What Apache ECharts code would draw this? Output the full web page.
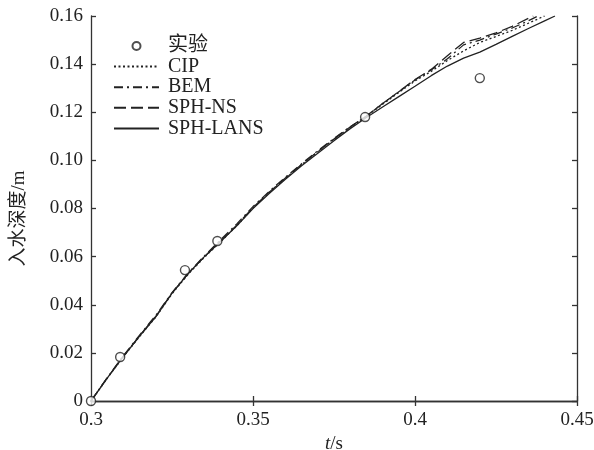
<!DOCTYPE html>
<html>
<head>
<meta charset="utf-8">
<script src="https://cdn.jsdelivr.net/npm/echarts@6/dist/echarts.min.js"></script>
<style>html,body{margin:0;padding:0;background:#fff}#c{width:594px;height:450px}</style>
</head>
<body>
<div id="c"></div>
<script>
// ---- data ----
var xTicks = [0.3, 0.35, 0.4, 0.45];
var yTicks = [0, 0.02, 0.04, 0.06, 0.08, 0.10, 0.12, 0.14, 0.16];

var tExp = [0.300, 0.309, 0.329, 0.339, 0.3846, 0.420];
var vExp = [0.000, 0.0183, 0.0544, 0.0665, 0.1180, 0.1342];

var tCIP = [0.300,0.305,0.310,0.315,0.320,0.325,0.330,0.335,0.340,0.345,0.350,0.355,0.360,0.365,0.370,0.375,0.380,0.385,0.390,0.395,0.400,0.405,0.410,0.415,0.420,0.425,0.430,0.435,0.440];
var vCIP = [0,0.0094,0.0184,0.0268,0.0349,0.0445,0.0527,0.0597,0.0662,0.0728,0.0802,0.0866,0.0925,0.0982,0.1036,0.1088,0.1138,0.1183,0.1233,0.1282,0.1330,0.1370,0.1415,0.1455,0.1490,0.1515,0.1540,0.1570,0.1600];

var tBEM = [0.300,0.305,0.310,0.315,0.320,0.325,0.330,0.335,0.340,0.345,0.350,0.355,0.360,0.365,0.370,0.375,0.380,0.385,0.390,0.395,0.400,0.405,0.410,0.415,0.420,0.425,0.430,0.435,0.438];
var vBEM = [0,0.0097,0.0188,0.0274,0.0356,0.0450,0.0532,0.0603,0.0670,0.0736,0.0808,0.0871,0.0930,0.0986,0.1040,0.1091,0.1140,0.1185,0.1236,0.1285,0.1334,0.1376,0.1422,0.1480,0.1500,0.1525,0.1550,0.1580,0.1600];

var tNS = [0.300,0.305,0.310,0.315,0.320,0.325,0.330,0.335,0.340,0.345,0.350,0.355,0.360,0.365,0.370,0.375,0.380,0.385,0.390,0.395,0.400,0.405,0.410,0.415,0.420,0.425,0.430,0.4365];
var vNS = [0,0.0096,0.0186,0.0271,0.0352,0.0448,0.0530,0.0600,0.0665,0.0731,0.0804,0.0868,0.0927,0.0983,0.1037,0.1089,0.1139,0.1184,0.1236,0.1286,0.1336,0.1378,0.1435,0.1490,0.1508,0.1530,0.1557,0.1600];

var tLANS = [0.300,0.305,0.310,0.315,0.320,0.325,0.330,0.335,0.340,0.345,0.350,0.355,0.360,0.365,0.370,0.375,0.380,0.385,0.390,0.395,0.400,0.405,0.410,0.415,0.420,0.425,0.430,0.435,0.440,0.4432];
var vLANS = [0,0.0095,0.0185,0.0270,0.0350,0.0448,0.0530,0.0600,0.0663,0.0728,0.0800,0.0862,0.0922,0.0978,0.1030,0.1082,0.1132,0.1178,0.1222,0.1265,0.1308,0.1352,0.1392,0.1425,0.1450,0.1482,0.1515,0.1548,0.1580,0.1600];

var seriesNames = ['实验', 'CIP', 'BEM', 'SPH-NS', 'SPH-LANS'];

function zip(t, v) { return t.map(function (x, i) { return [x, v[i]]; }); }

var FONT = '"Liberation Serif", "Times New Roman", "Noto Sans CJK SC", serif';
var INK = '#222';

var chart = echarts.init(document.getElementById('c'), null, {renderer: 'canvas'});

function lineSeries(name, t, v, dash) {
  return {
    name: name, type: 'line', data: zip(t, v), showSymbol: false, symbol: 'none',
    lineStyle: {color: INK, width: 1.3, type: dash},
    itemStyle: {color: INK},
    z: 2, animation: false
  };
}

var legendData = seriesNames.map(function (n, i) {
  return i === 0 ? {name: n} : {name: n, itemStyle: {opacity: 0}};
});

chart.setOption({
  backgroundColor: '#fff',
  animation: false,
  grid: {left: 91, right: 17, top: 16, bottom: 49, containLabel: false, outerBoundsMode: 'none'},
  legend: {
    orient: 'vertical', left: 108, top: 31,
    itemWidth: 45, itemHeight: 8, itemGap: 0.6,
    data: legendData,
    textStyle: {fontFamily: FONT, fontSize: 20, lineHeight: 20, color: INK, padding: [0, 0, 0, 4]},
    inactiveColor: INK
  },
  xAxis: [{
    type: 'value', min: 0.3, max: 0.45, interval: 0.05,
    position: 'bottom',
    name: '{i|t}/s', nameLocation: 'middle', nameGap: 31,
    nameTextStyle: {fontFamily: FONT, fontSize: 19, color: INK,
      rich: {i: {fontFamily: FONT, fontSize: 19, fontStyle: 'italic', color: INK}}},
    axisLine: {show: true, lineStyle: {color: '#333', width: 1.3}},
    axisTick: {show: true, inside: true, length: 5, lineStyle: {color: '#333', width: 1.3}},
    axisLabel: {fontFamily: FONT, fontSize: 19, color: INK, margin: 10,
      formatter: function (v) { return String(+v.toFixed(2)); }},
    splitLine: {show: false}
  }, {
    type: 'value', min: 0.3, max: 0.45, interval: 0.05,
    position: 'top',
    axisLine: {show: true, lineStyle: {color: '#333', width: 1.3}},
    axisTick: {show: true, inside: true, length: 5, lineStyle: {color: '#333', width: 1.3}},
    axisLabel: {show: false},
    splitLine: {show: false}
  }],
  yAxis: [{
    type: 'value', min: 0, max: 0.16, interval: 0.02,
    position: 'left',
    name: '入水深度/m', nameLocation: 'middle', nameGap: 62,
    nameTextStyle: {fontFamily: FONT, fontSize: 19, color: INK, padding: [0, 20, 0, 0]},
    axisLine: {show: true, lineStyle: {color: '#333', width: 1.3}},
    axisTick: {show: true, inside: true, length: 5, lineStyle: {color: '#333', width: 1.3}},
    axisLabel: {fontFamily: FONT, fontSize: 19, color: INK, margin: 8,
      formatter: function (v) { return v === 0 ? '0' : v.toFixed(2); }},
    splitLine: {show: false}
  }, {
    type: 'value', min: 0, max: 0.16, interval: 0.02,
    position: 'right',
    axisLine: {show: true, lineStyle: {color: '#333', width: 1.3}},
    axisTick: {show: true, inside: true, length: 5, lineStyle: {color: '#333', width: 1.3}},
    axisLabel: {show: false},
    splitLine: {show: false}
  }],
  series: [
    {
      name: seriesNames[0], type: 'scatter', data: zip(tExp, vExp),
      symbol: 'circle', symbolSize: 9,
      itemStyle: {color: '#fff', borderColor: INK, borderWidth: 1.4},
      z: 3
    },
    lineSeries(seriesNames[1], tCIP, vCIP, [2, 2.5]),
    lineSeries(seriesNames[2], tBEM, vBEM, [9, 4, 2, 4]),
    lineSeries(seriesNames[3], tNS, vNS, [12, 5]),
    lineSeries(seriesNames[4], tLANS, vLANS, 'solid')
  ]
});
</script>
</body>
</html>
